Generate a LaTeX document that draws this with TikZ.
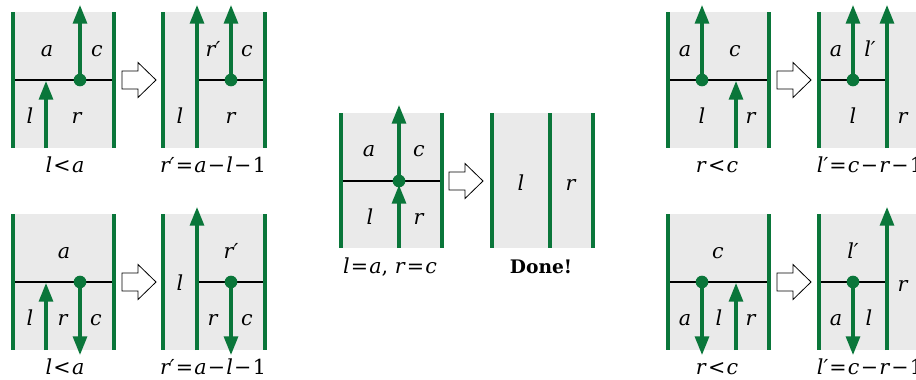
\documentclass[tikz,border=0pt]{standalone}
\usepackage{fontspec}
\setmainfont{DejaVu Serif}
\usetikzlibrary{arrows.meta}
\definecolor{grn}{RGB}{10,118,58}
\definecolor{bg}{RGB}{234,234,234}
\newcommand\vv[1]{\textit{#1}}
\newcommand\op[1]{\kern0.9pt#1\kern0.9pt}
\tikzset{
  panel/.style={fill=bg, draw=none},
  wall/.style={grn, line width=2.3pt},
  arr/.style={grn, line width=2.3pt, -{Triangle[length=14pt,width=10.5pt]}},
  hl/.style={black, line width=1.1pt},
  pt/.style={circle, fill=grn, draw=none, inner sep=0pt, minimum size=9.5pt},
  lbl/.style={font=\fontsize{15.5}{18}\selectfont, inner sep=0pt, anchor=base},
  hollow/.style={draw=black, fill=white, line width=0.6pt, line join=miter},
  harrow/.pic={\draw[hollow] (0,-9) -- ++(16,0) -- ++(0,-8.5) -- ++(18,17.5) -- ++(-18,17.5) -- ++(0,-8.5) -- ++(-16,0) -- cycle;}
}
\begin{document}
\begin{tikzpicture}[x=0.75pt,y=-0.75pt]
\useasboundingbox (0,0) rectangle (916,379);
\clip (0,0) rectangle (916,379);

% ---------- Panel A (top-left) ----------
\fill[panel] (13,12) rectangle (114,148);
\draw[hl] (13,80) -- (114,80);
\draw[wall] (13,12) -- (13,148);
\draw[wall] (114,12) -- (114,148);
\coordinate (Ad) at (80,80); \coordinate (At) at (80,5);
\coordinate (Ab) at (46,148); \coordinate (Au) at (46,81);
\draw[arr] (Ad) -- (At);
\draw[arr] (Ab) -- (Au);
\node[pt] (AD) at (Ad) {};
\node[lbl] (Aa) at (47,56) {\vv{a}};
\node[lbl] (Ac) at (97,56) {\vv{c}};
\node[lbl] (Al) at (30,123) {\vv{l}};
\node[lbl] (Ar) at (77,123) {\vv{r}};
\node[lbl] (Acap) at (65,172) {\vv{l}\op{<}\vv{a}};
\pic at (122,80) {harrow};

% ---------- Panel B ----------
\fill[panel] (163,12) rectangle (265,148);
\draw[hl] (197,80) -- (265,80);
\draw[wall] (163,12) -- (163,148);
\draw[wall] (265,12) -- (265,148);
\coordinate (Bb) at (197,148); \coordinate (Bt) at (197,5);
\coordinate (Bd) at (231,80); \coordinate (Bt2) at (231,5);
\draw[arr] (Bb) -- (Bt);
\draw[arr] (Bd) -- (Bt2);
\node[pt] (BD) at (Bd) {};
\node[lbl] (Bl) at (180,123) {\vv{l}};
\node[lbl] (Brp) at (213,56) {\vv{r′}};
\node[lbl] (Bc) at (247,56) {\vv{c}};
\node[lbl] (Br) at (231,123) {\vv{r}};
\node[lbl] (Bcap) at (213,172) {\vv{r′}\op{=}\vv{a}\op{−}\vv{l}\op{−}1};

% ---------- Panel C (bottom-left) ----------
\fill[panel] (13,214) rectangle (114,350);
\draw[hl] (13,282) -- (114,282);
\draw[wall] (13,214) -- (13,350);
\draw[wall] (114,214) -- (114,350);
\coordinate (Cb) at (46,350); \coordinate (Cu) at (46,283);
\coordinate (Cd) at (80,282); \coordinate (Cdn) at (80,355);
\draw[arr] (Cb) -- (Cu);
\draw[arr] (Cd) -- (Cdn);
\node[pt] (CD) at (Cd) {};
\node[lbl] (Ca) at (64,258) {\vv{a}};
\node[lbl] (Cl) at (30,325) {\vv{l}};
\node[lbl] (Cr) at (63,325) {\vv{r}};
\node[lbl] (Cc) at (96,325) {\vv{c}};
\node[lbl] (Ccap) at (65,374) {\vv{l}\op{<}\vv{a}};
\pic at (122,282) {harrow};

% ---------- Panel D ----------
\fill[panel] (163,214) rectangle (265,350);
\draw[hl] (197,282) -- (265,282);
\draw[wall] (163,214) -- (163,350);
\draw[wall] (265,214) -- (265,350);
\coordinate (Db) at (197,350); \coordinate (Dt) at (197,207);
\coordinate (Dd) at (231,282); \coordinate (Ddn) at (231,355);
\draw[arr] (Db) -- (Dt);
\draw[arr] (Dd) -- (Ddn);
\node[pt] (DD) at (Dd) {};
\node[lbl] (Dl) at (180,290) {\vv{l}};
\node[lbl] (Drp) at (231,258) {\vv{r′}};
\node[lbl] (Dr) at (213,325) {\vv{r}};
\node[lbl] (Dc) at (247,325) {\vv{c}};
\node[lbl] (Dcap) at (213,374) {\vv{r′}\op{=}\vv{a}\op{−}\vv{l}\op{−}1};

% ---------- Panel E (middle) ----------
\fill[panel] (341,113) rectangle (442,248);
\draw[hl] (341,181) -- (442,181);
\draw[wall] (341,113) -- (341,248);
\draw[wall] (442,113) -- (442,248);
\coordinate (Ed) at (399,181); \coordinate (Et) at (399,105);
\coordinate (Eb) at (399,248); \coordinate (Eu) at (399,185);
\draw[arr] (Ed) -- (Et);
\draw[arr] (Eb) -- (Eu);
\node[pt] (ED) at (Ed) {};
\node[lbl] (Ea) at (369,156) {\vv{a}};
\node[lbl] (Ec) at (419,156) {\vv{c}};
\node[lbl] (El) at (370,224) {\vv{l}};
\node[lbl] (Er) at (419,224) {\vv{r}};
\node[lbl] (Ecap) at (390,273) {\vv{l}\op{=}\vv{a}, \vv{r}\op{=}\vv{c}};
\pic at (449,181) {harrow};

% ---------- Panel F (done) ----------
\fill[panel] (492,113) rectangle (593,248);
\draw[wall] (492,113) -- (492,248);
\draw[wall] (550,113) -- (550,248);
\draw[wall] (593,113) -- (593,248);
\node[lbl] (Fl) at (521,190) {\vv{l}};
\node[lbl] (Fr) at (571,190) {\vv{r}};
\node[lbl, font=\fontsize{14}{17}\selectfont] (Fcap) at (541,273) {\textbf{Done!}};

% ---------- Panel G (top-right) ----------
\fill[panel] (668,12) rectangle (769,148);
\draw[hl] (668,80) -- (769,80);
\draw[wall] (668,12) -- (668,148);
\draw[wall] (769,12) -- (769,148);
\coordinate (Gd) at (702,80); \coordinate (Gt) at (702,5);
\coordinate (Gb) at (736,148); \coordinate (Gu) at (736,81);
\draw[arr] (Gd) -- (Gt);
\draw[arr] (Gb) -- (Gu);
\node[pt] (GD) at (Gd) {};
\node[lbl] (Ga) at (685,56) {\vv{a}};
\node[lbl] (Gc) at (735,56) {\vv{c}};
\node[lbl] (Gl) at (702,123) {\vv{l}};
\node[lbl] (Gr) at (751,123) {\vv{r}};
\node[lbl] (Gcap) at (717,172) {\vv{r}\op{<}\vv{c}};
\pic at (777,80) {harrow};

% ---------- Panel H ----------
\fill[panel] (819,12) rectangle (921,148);
\draw[hl] (819,80) -- (887,80);
\draw[wall] (819,12) -- (819,148);
\draw[wall] (921,12) -- (921,148);
\coordinate (Hb) at (887,148); \coordinate (Ht) at (887,5);
\coordinate (Hd) at (853,80); \coordinate (Ht2) at (853,5);
\draw[arr] (Hb) -- (Ht);
\draw[arr] (Hd) -- (Ht2);
\node[pt] (HD) at (Hd) {};
\node[lbl] (Ha) at (836,56) {\vv{a}};
\node[lbl] (Hlp) at (870,56) {\vv{l′}};
\node[lbl] (Hl) at (853,123) {\vv{l}};
\node[lbl] (Hr) at (903,123) {\vv{r}};
\node[lbl] (Hcap) at (870,172) {\vv{l′}\op{=}\vv{c}\op{−}\vv{r}\op{−}1};

% ---------- Panel I (bottom-right) ----------
\fill[panel] (668,214) rectangle (769,350);
\draw[hl] (668,282) -- (769,282);
\draw[wall] (668,214) -- (668,350);
\draw[wall] (769,214) -- (769,350);
\coordinate (Id) at (702,282); \coordinate (Idn) at (702,355);
\coordinate (Ib) at (736,350); \coordinate (Iu) at (736,283);
\draw[arr] (Id) -- (Idn);
\draw[arr] (Ib) -- (Iu);
\node[pt] (ID) at (Id) {};
\node[lbl] (Ic) at (718,258) {\vv{c}};
\node[lbl] (Ia) at (685,325) {\vv{a}};
\node[lbl] (Il) at (719,325) {\vv{l}};
\node[lbl] (Ir) at (751,325) {\vv{r}};
\node[lbl] (Icap) at (717,374) {\vv{r}\op{<}\vv{c}};
\pic at (777,282) {harrow};

% ---------- Panel J ----------
\fill[panel] (819,214) rectangle (921,350);
\draw[hl] (819,282) -- (887,282);
\draw[wall] (819,214) -- (819,350);
\draw[wall] (921,214) -- (921,350);
\coordinate (Jb) at (887,350); \coordinate (Jt) at (887,207);
\coordinate (Jd) at (853,282); \coordinate (Jdn) at (853,355);
\draw[arr] (Jb) -- (Jt);
\draw[arr] (Jd) -- (Jdn);
\node[pt] (JD) at (Jd) {};
\node[lbl] (Jlp) at (853,258) {\vv{l′}};
\node[lbl] (Ja) at (836,325) {\vv{a}};
\node[lbl] (Jl) at (869,325) {\vv{l}};
\node[lbl] (Jr) at (903,291) {\vv{r}};
\node[lbl] (Jcap) at (870,374) {\vv{l′}\op{=}\vv{c}\op{−}\vv{r}\op{−}1};
\end{tikzpicture}
\end{document}
